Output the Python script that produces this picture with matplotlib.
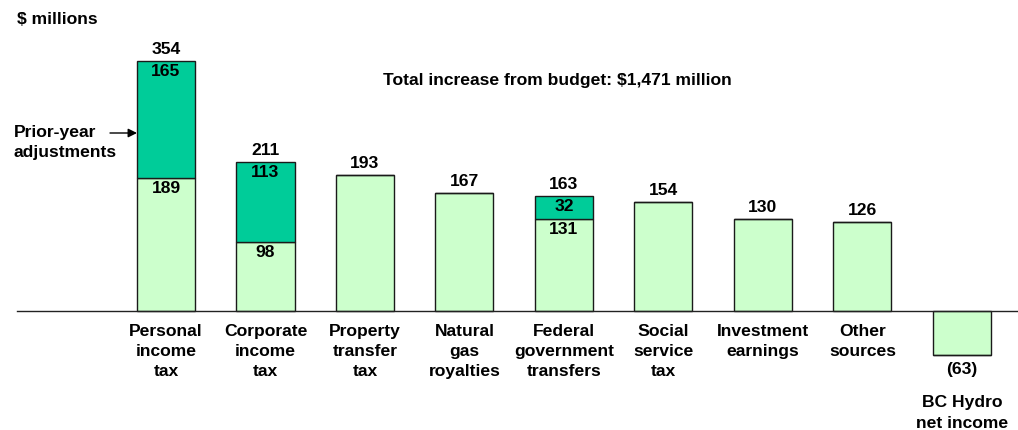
import matplotlib.pyplot as plt
from matplotlib.patches import FancyArrowPatch

plt.rcParams['font.family'] = ['Liberation Sans', 'DejaVu Sans']

categories = ["Personal\nincome\ntax", "Corporate\nincome\ntax", "Property\ntransfer\ntax",
              "Natural\ngas\nroyalties", "Federal\ngovernment\ntransfers", "Social\nservice\ntax",
              "Investment\nearnings", "Other\nsources", "BC Hydro\nnet income"]
current_year = [189, 98, 193, 167, 131, 154, 130, 126, -63]
prior_year = [165, 113, 0, 0, 32, 0, 0, 0, 0]
totals = [354, 211, 193, 167, 163, 154, 130, 126, -63]

light = "#CCFFCC"
dark = "#00CC99"
edge = "#1a1a1a"

fig = plt.figure(figsize=(10.18, 4.30), dpi=100)
ax = fig.add_axes([0, 0, 1, 1])

# data scale: 99.5 px per category, 0.706 px per $ million
px_per_cat = 99.5
px_per_unit = 0.706
x0_px, base_px = 166, 311
ax.set_xlim(-x0_px / px_per_cat, (1018 - x0_px) / px_per_cat)
ax.set_ylim(-(430 - base_px) / px_per_unit, base_px / px_per_unit)
ax.axis('off')

width = 58 / px_per_cat
xs = list(range(len(categories)))
ax.bar(xs, current_year, width=width, color=light, edgecolor=edge, linewidth=1.0, zorder=2)
ax.bar(xs, prior_year, bottom=current_year, width=width, color=dark, edgecolor=edge,
       linewidth=1.0, zorder=2)

# baseline
ax.plot([(17 - x0_px) / px_per_cat, (1018 - x0_px) / px_per_cat], [0, 0],
        color="#222222", lw=1.0, zorder=3)

fs = 12.6
ls = 1.42
up = 4 / px_per_unit
inset = 3 / px_per_unit
for i in xs:
    total = totals[i]
    if total >= 0:
        ax.text(i, total + up, f"{total}", ha='center', va='bottom', fontsize=fs,
                fontweight='bold')
        if prior_year[i]:
            ax.text(i, total - inset, f"{prior_year[i]}", ha='center', va='top',
                    fontsize=fs, fontweight='bold', zorder=4)
            ax.text(i, current_year[i] - inset, f"{current_year[i]}", ha='center', va='top',
                    fontsize=fs, fontweight='bold', zorder=4)
        ax.text(i, -13 / px_per_unit, categories[i], ha='center', va='top', fontsize=fs,
                fontweight='bold', linespacing=ls)
    else:
        ax.text(i, total - 7 / px_per_unit, f"({abs(total)})", ha='center', va='top',
                fontsize=fs, fontweight='bold')
        ax.text(i, total - 40 / px_per_unit, categories[i], ha='center', va='top',
                fontsize=fs, fontweight='bold', linespacing=ls)

fig.text(17 / 1018, 1 - 20 / 430, "$ millions", ha='left', va='center', fontsize=fs,
         fontweight='bold')
fig.text(557 / 1018, 1 - 81 / 430, "Total increase from budget: $1,471 million",
         ha='center', va='center', fontsize=fs, fontweight='bold')

fig.text(14 / 1018, 1 - 125 / 430, "Prior-year\nadjustments", ha='left', va='top',
         fontsize=fs, fontweight='bold', linespacing=ls)
fig.add_artist(FancyArrowPatch((110 / 1018, 1 - 133 / 430), (137 / 1018, 1 - 133 / 430),
                               transform=fig.transFigure, arrowstyle='-|>',
                               mutation_scale=13, color='black', lw=1.0,
                               shrinkA=0, shrinkB=0))

fig.savefig("out.png", dpi=100)
